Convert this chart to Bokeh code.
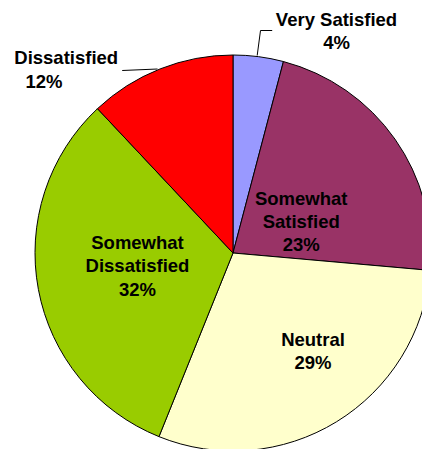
import math
from bokeh.plotting import figure
from bokeh.models import Range1d, ColumnDataSource
from bokeh.core.properties import value
from bokeh.embed import file_html
from bokeh.resources import INLINE

# ---- data (clockwise from 12 o'clock) ----
categories = ["Very Satisfied", "Somewhat Satisfied", "Neutral",
              "Somewhat Dissatisfied", "Dissatisfied"]
shares = [4.1, 22.3, 29.7, 31.9, 12.0]
pct_labels = ["4%", "23%", "29%", "32%", "12%"]
colors = ["#9999FF", "#993366", "#FFFFCC", "#99CC00", "#FF0000"]

# ---- layout (screen pixel coordinates of the page) ----
W, H = 422, 449
OX, OY = 0, 0
PAGE_H = 449
cx, cy, R = 232.5, 252.5, 198.0
TEXT_SHIFT = -7
label_layout = {
    "Very Satisfied": ([categories[0], pct_labels[0]], [336, 336], [26, 48.5]),
    "Somewhat Satisfied": (["Somewhat", "Satisfied", pct_labels[1]], [300.7] * 3, [205, 228.3, 251]),
    "Neutral": ([categories[2], pct_labels[2]], [312.5, 312.5], [345.7, 368.7]),
    "Somewhat Dissatisfied": (["Somewhat", "Dissatisfied", pct_labels[3]], [137] * 3, [249.3, 271.7, 295.7]),
    "Dissatisfied": ([categories[4], pct_labels[4]], [65.7, 43.5], [64.3, 88.3]),
}
leaders = [
    ([256.7, 260, 271.7], [55, 30, 30]),
    ([121.7, 157], [70, 68.5]),
]

def sy(Y):
    return PAGE_H - Y

p = figure(width=W, height=H, output_backend="svg", toolbar_location=None,
           x_range=Range1d(OX, OX + W), y_range=Range1d(PAGE_H - OY - H, PAGE_H - OY),
           min_border=0, outline_line_color=None, background_fill_color="white")
p.axis.visible = False
p.grid.visible = False

total = sum(shares)
starts, ends = [], []
cum = 0.0
for s in shares:
    starts.append(math.pi / 2 - 2 * math.pi * cum / total)
    cum += s
    ends.append(math.pi / 2 - 2 * math.pi * cum / total)

src = ColumnDataSource(dict(x=[cx] * len(shares), y=[sy(cy)] * len(shares),
                            start=starts, end=ends, color=colors, cat=categories))
p.wedge(x="x", y="y", radius=R, start_angle="start", end_angle="end",
        direction="clock", fill_color="color", line_color="black",
        line_width=1, source=src)

for xs, ys in leaders:
    p.line(xs, [sy(v) for v in ys], line_color="black", line_width=1)

tx, ty, tt = [], [], []
for cat in categories:
    lines, xs, ys = label_layout[cat]
    for t, x, y in zip(lines, xs, ys):
        tx.append(x); ty.append(sy(y + TEXT_SHIFT)); tt.append(t)

p.text(x=tx, y=ty, text=tt, text_align="center", text_baseline="alphabetic",
       text_font=value("Liberation Sans"), text_font_style="bold",
       text_font_size="18.5px", text_color="black")

open("out.html", "w").write(file_html(p, INLINE))
